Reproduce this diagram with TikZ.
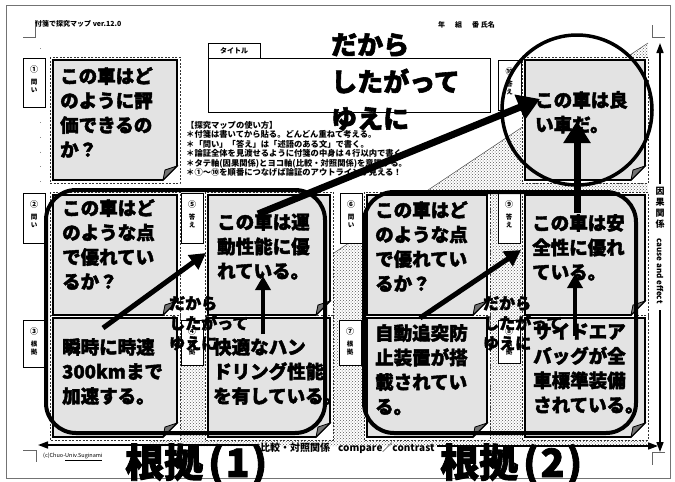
\documentclass[tikz,border=0pt]{standalone}
\usepackage{fontspec}
\newfontfamily\jp{Noto Sans CJK JP}
\newfontfamily\jpH[BoldFeatures={FakeBold=2.2}]{Noto Sans CJK JP}
\usetikzlibrary{arrows.meta,patterns}
\newcommand\slotbox[4]{\draw[slot] ({#1-3},{#2-3}) rectangle ({#3+3},{#4+3});}
\newcommand\stnote[4]{%
 \draw[notefill] (#1,#2) -- (#3,#2) -- (#3,{#4-14}) -- ({#3-14},#4) -- (#1,#4) -- cycle;
 \draw[curl] (#3,{#4-14}) -- ({#3-12},{#4-10}) -- ({#3-14},#4) -- cycle;}
\newcommand\lblbox[7]{%
 \draw[lbl] (#1,#2) rectangle (#3,#4);
 \node[lblnum] (#7n) at ({(#1+#3)/2},{#2+11}) {#5};
 \node[lbltxt] (#7t) at ({(#1+#3)/2},{#2+28}) {#6};}
\begin{document}
\begin{tikzpicture}[x=1pt,y=-1pt,
 notefill/.style={fill=black!11, draw=black, line width=1.7pt},
 curl/.style={fill=black!55, draw=black, line width=0.8pt},
 slot/.style={draw=black!80, line width=0.6pt, dash pattern=on 2pt off 1.5pt, fill=white},
 lbl/.style={draw=black, line width=0.7pt, fill=white},
 lblnum/.style={inner sep=0pt, font=\jp\bfseries\fontsize{8}{9}\selectfont},
 lbltxt/.style={inner sep=0pt, align=center, font=\jp\bfseries\fontsize{6.5}{8}\selectfont},
 notetxt/.style={anchor=north west, inner sep=0pt, align=left, font=\jpH\bfseries\fontsize{18.5}{24.5}\selectfont},
 midover/.style={anchor=north west, inner sep=0pt, align=left, font=\jpH\bfseries\fontsize{16}{20}\selectfont},
 small/.style={inner sep=0pt, font=\jp\bfseries\fontsize{7}{8}\selectfont},
 roundbox/.style={draw=black, line width=4pt, rounded corners=30pt},
 arrA/.style={line width=5pt, -{Triangle[length=16pt,width=17pt]}},
 arrB/.style={line width=4pt, -{Triangle[length=14pt,width=15pt]}},
 arrC/.style={line width=7pt, -{Triangle[length=22pt,width=26pt]}},
 axis/.style={line width=1.6pt, -{Triangle[length=10pt,width=7pt]}},
 corner/.style={draw=black!60, line width=0.6pt},
]
\useasboundingbox (0,0) rectangle (675,482);
\fill[white] (0,0) rectangle (675,482);
\draw[black!55, line width=1pt] (6,5) rectangle (670,478);
% corner marks
\draw[corner] (23,37) -- (35,37) -- (35,20);
\draw[corner] (652,25) -- (652,37) -- (665,37);
\draw[corner] (23,450) -- (36,450) -- (36,462);
\draw[corner] (665,452) -- (652,452) -- (652,465);
% guide dots
\draw[black!45, line width=0.8pt, dash pattern=on 0.8pt off 14pt] (40,48) -- (40,190);
% dotted background
\fill[pattern=crosshatch dots, pattern color=black!65] (648,43) -- (648,446) -- (150,446) -- (150,376) -- cycle;
\draw[black!70, line width=0.5pt] (150,376) -- (648,43);
% header
\node[small, anchor=west] (hdr) at (35,24) {付箋で探究マップ\ ver.12.0};
\node[small, anchor=west] (name) at (438,25) {年\hspace{10pt}組\hspace{10pt}番\ 氏名};
% slots
\slotbox{53}{60}{177}{180}
\slotbox{525}{60}{645}{180}
\slotbox{53}{195}{177}{315}
\slotbox{53}{318}{177}{437}
\slotbox{208}{195}{330}{315}
\slotbox{208}{318}{330}{437}
\slotbox{367}{195}{487}{315}
\slotbox{367}{318}{487}{437}
\slotbox{525}{195}{645}{315}
\slotbox{525}{318}{645}{437}
% label boxes
\lblbox{23}{58}{45}{107}{①}{問\\い}{l1}
\lblbox{23}{193}{45}{243}{②}{問\\い}{l2}
\lblbox{23}{320}{45}{367}{③}{根\\拠}{l3}
\lblbox{181}{320}{203}{365}{④}{根\\拠}{l4}
\lblbox{181}{193}{203}{243}{⑤}{答\\え}{l5}
\lblbox{340}{193}{362}{243}{⑥}{問\\い}{l6}
\lblbox{339}{320}{361}{365}{⑦}{根\\拠}{l7}
\lblbox{498}{320}{520}{363}{⑧}{根\\拠}{l8}
\lblbox{498}{193}{520}{243}{⑨}{答\\え}{l9}
\lblbox{498}{60}{521}{110}{⑩}{答\\え}{l10}
% title box
\draw[lbl] (208,43) rectangle (260,58);
\node[small] (ttab) at (234,51) {タイトル};
\draw[lbl, line width=0.9pt] (208,58) rectangle (490,112);
% usage text
\node[anchor=north west, inner sep=0pt, align=left, font=\jp\bfseries\fontsize{8.3}{9.5}\selectfont] (usage) at (186,121)
{【探究マップの使い方】\\
＊付箋は書いてから貼る。どんどん重ねて考える。\\
＊「問い」「答え」は「述語のある文」で書く。\\
＊論証全体を見渡せるように付箋の中身は４行以内で書く。\\
＊タテ軸(因果関係)とヨコ軸(比較・対照関係)を意識する。\\
＊①〜⑩を順番につなげば論証のアウトラインが見える！};
% notes
\stnote{53}{60}{177}{180}
\stnote{525}{60}{645}{180}
\stnote{53}{195}{177}{315}
\stnote{53}{318}{177}{437}
\stnote{208}{195}{330}{315}
\stnote{208}{318}{330}{437}
\stnote{367}{195}{487}{315}
\stnote{367}{318}{487}{437}
\stnote{525}{195}{645}{315}
\stnote{525}{318}{645}{437}
% rounded frames
\draw[roundbox] (46,190) rectangle (325,433) ;
\draw[roundbox] (364,192) rectangle (636,433) ;
% circle
\draw[line width=3.5pt] (577,110) circle[radius=75pt];
% big overlay
\node[anchor=north west, inner sep=0pt, align=left, font=\jpH\bfseries\fontsize{26}{37}\selectfont] (ov0) at (331,33) {だから\\したがって\\ゆえに};
\node[midover] (ov1) at (169,296) {だから\\したがって\\ゆえに};
\node[midover] (ov2) at (483,296) {だから\\したがって\\ゆえに};
% note texts
\node[notetxt] (t1) at (60,67) {この車はど\\のように評\\価できるの\\か？};
\node[notetxt] (t10) at (535,91) {この車は良\\い車だ。};
\node[notetxt] (t2) at (62,199) {この車はど\\のような点\\で優れてい\\るか？};
\node[notetxt] (t5) at (217,213) {この車は運\\動性能に優\\れている。};
\node[notetxt] (t6) at (375,201) {この車はど\\のような点\\で優れてい\\るか？};
\node[notetxt] (t9) at (532,214) {この車は安\\全性に優れ\\ている。};
\node[notetxt] (t3) at (62,338) {瞬時に時速\\300kmまで\\加速する。};
\node[notetxt] (t4) at (213,338) {快適なハン\\ドリング性能\\を有している。};
\node[notetxt] (t7) at (375,324) {自動追突防\\止装置が搭\\載されてい\\る。};
\node[notetxt] (t8) at (533,323) {サイドエア\\バッグが全\\車標準装備\\されている。};
% arrows
\coordinate (a1s) at (103,328); \coordinate (a1e) at (206,253);
\coordinate (a2s) at (258,214); \coordinate (a2e) at (540,99);
\coordinate (a3s) at (263,334); \coordinate (a3e) at (263,276);
\coordinate (a4s) at (420,318); \coordinate (a4e) at (521,250);
\coordinate (a5s) at (575,336); \coordinate (a5e) at (575,274);
\coordinate (a6s) at (577,213); \coordinate (a6e) at (577,121);
\draw[arrA] (a1s) -- (a1e);
\draw[arrC] (a2s) -- (a2e);
\draw[arrB] (a3s) -- (a3e);
\draw[arrA] (a4s) -- (a4e);
\draw[arrB] (a5s) -- (a5e);
\draw[arrC] (a6s) -- (a6e);
% vertical axis
\coordinate (vtop) at (660,43); \coordinate (vbot) at (660,452);
\coordinate (vm1) at (660,184); \coordinate (vm2) at (660,310);
\draw[axis] (vm1) -- (vtop);
\draw[axis] (vm2) -- (vbot);
\node[inner sep=0pt, align=center, font=\jp\bfseries\fontsize{9}{11}\selectfont, anchor=north] (vlab1) at (660,187) {因\\果\\関\\係};
\node[inner sep=0pt, rotate=-90, anchor=west, font=\jp\bfseries\fontsize{8}{9}\selectfont] (vlab2) at (660,238) {cause and effect};
% horizontal axis
\coordinate (hl) at (38,445); \coordinate (hr) at (658,446);
\coordinate (hm1) at (258,445); \coordinate (hm2) at (437,446);
\draw[axis] (hm1) -- (hl);
\draw[axis] (hm2) -- (hr);
\node[inner sep=0pt, anchor=west, font=\jp\bfseries\fontsize{10}{11}\selectfont] (hlab) at (260,448) {比較・対照関係\hspace{8pt}compare／contrast};
\node[inner sep=0pt, anchor=west, font=\jp\fontsize{5.5}{6}\selectfont] (copy) at (43,457) {(c)Chuo-\underline{Univ.Suginami}};
% big bottom labels
\node[inner sep=0pt, anchor=base west, font=\jpH\bfseries\fontsize{39}{40}\selectfont] (g1) at (125,477) {根拠\hspace{5pt}(\hspace{2pt}1\hspace{2pt})};
\node[inner sep=0pt, anchor=base west, font=\jpH\bfseries\fontsize{39}{40}\selectfont] (g2) at (440,477) {根拠\hspace{5pt}(\hspace{2pt}2\hspace{2pt})};
\end{tikzpicture}
\end{document}
